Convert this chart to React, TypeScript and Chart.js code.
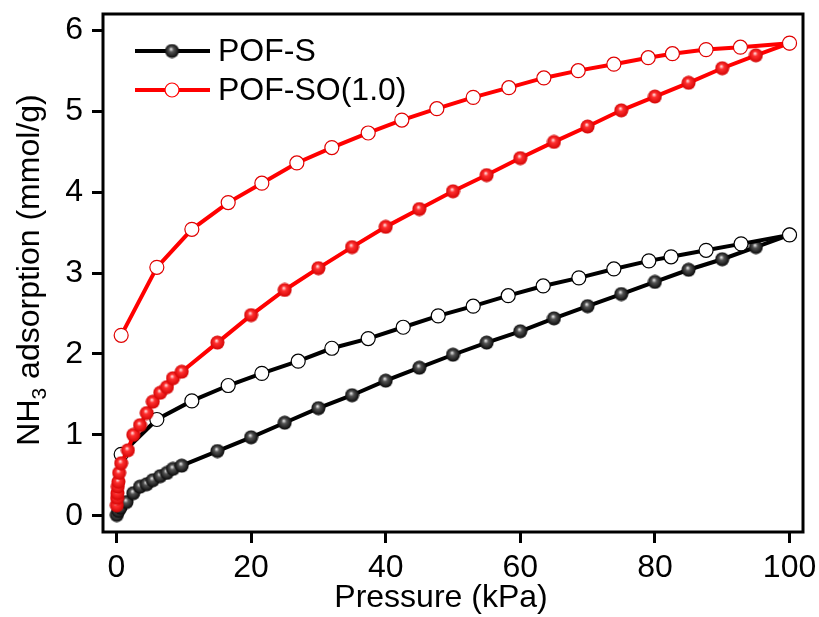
import React, { useEffect, useRef } from "react";
import { Chart, registerables } from "chart.js";
Chart.register(...registerables);

const xTicks = [0, 20, 40, 60, 80, 100];
const yTicks = [0, 1, 2, 3, 4, 5, 6];

// POF-S adsorption (filled)
const xAdsS = [0.05, 0.3, 0.6, 1.5, 2.5, 3.5, 4.5, 5.4, 6.5, 7.5, 8.4, 9.7, 15, 20, 25, 30, 35, 40, 45, 50, 55, 60, 65, 70, 75, 80, 85, 90, 95, 100];
const yAdsS = [0.01, 0.06, 0.1, 0.17, 0.28, 0.36, 0.39, 0.44, 0.49, 0.53, 0.58, 0.62, 0.8, 0.97, 1.15, 1.33, 1.49, 1.67, 1.83, 1.99, 2.14, 2.28, 2.44, 2.59, 2.74, 2.89, 3.04, 3.17, 3.32, 3.47];
// POF-S desorption (open)
const xDesS = [100, 92.8, 87.6, 82.4, 79.1, 73.9, 68.7, 63.4, 58.2, 53, 47.8, 42.6, 37.4, 32, 27, 21.6, 16.6, 11.2, 6, 0.7];
const yDesS = [3.47, 3.36, 3.28, 3.2, 3.15, 3.05, 2.94, 2.84, 2.72, 2.59, 2.47, 2.33, 2.19, 2.07, 1.91, 1.76, 1.61, 1.42, 1.19, 0.76];
// POF-SO(1.0) adsorption (filled)
const xAdsSO = [0.05, 0.1, 0.15, 0.2, 0.3, 0.4, 0.7, 1.7, 2.5, 3.5, 4.5, 5.4, 6.5, 7.5, 8.4, 9.7, 15, 20, 25, 30, 35, 40, 45, 50, 55, 60, 65, 70, 75, 80, 85, 90, 95, 100];
const yAdsSO = [0.13, 0.22, 0.28, 0.36, 0.42, 0.53, 0.65, 0.81, 1.0, 1.12, 1.27, 1.41, 1.52, 1.59, 1.7, 1.78, 2.14, 2.48, 2.79, 3.06, 3.32, 3.57, 3.79, 4.01, 4.21, 4.42, 4.62, 4.81, 5.01, 5.18, 5.35, 5.53, 5.69, 5.84];
// POF-SO(1.0) desorption (open)
const xDesSO = [100, 92.7, 87.6, 82.6, 79, 73.9, 68.6, 63.5, 58.3, 53, 47.6, 42.4, 37.4, 32, 26.8, 21.6, 16.6, 11.2, 6, 0.7];
const yDesSO = [5.84, 5.79, 5.76, 5.71, 5.66, 5.58, 5.5, 5.41, 5.29, 5.17, 5.03, 4.89, 4.73, 4.55, 4.36, 4.11, 3.87, 3.54, 3.07, 2.23];

const legendNames = ["POF-S", "POF-SO(1.0)"];
const xTitle = "Pressure (kPa)";
const FONT = "'Liberation Sans', Arial, sans-serif";
const FS = 32;

const pts = (xs: number[], ys: number[]) => xs.map((x, i) => ({ x, y: ys[i] }));

function makeSphere(light: string, mid: string, dark: string) {
  const c = document.createElement("canvas");
  c.width = 15;
  c.height = 15;
  const g = c.getContext("2d")!;
  const grad = g.createRadialGradient(6.5, 5.5, 0.3, 7.5, 7.5, 7.5);
  grad.addColorStop(0, light);
  grad.addColorStop(0.3, mid);
  grad.addColorStop(1, dark);
  g.fillStyle = grad;
  g.beginPath();
  g.arc(7.5, 7.5, 7, 0, Math.PI * 2);
  g.fill();
  return c;
}

export default function App() {
  const ref = useRef<HTMLCanvasElement>(null);
  useEffect(() => {
    const blackBall = makeSphere("#e8e8e8", "#555", "#000");
    const redBall = makeSphere("#ffe0e0", "#ff3030", "#d00000");

    const framePlugin = {
      id: "frame",
      afterDraw(chart: any) {
        const { ctx, chartArea: a } = chart;
        ctx.save();
        ctx.strokeStyle = "#000";
        ctx.lineWidth = 3;
        ctx.strokeRect(a.left, a.top, a.right - a.left, a.bottom - a.top);

        // legend
        const items = [
          { name: legendNames[0], color: "#000", y: 51, filled: true },
          { name: legendNames[1], color: "#ff0000", y: 90, filled: false },
        ];
        items.forEach((it) => {
          ctx.strokeStyle = it.color;
          ctx.lineWidth = 4;
          ctx.beginPath();
          ctx.moveTo(135, it.y);
          ctx.lineTo(210, it.y);
          ctx.stroke();
          if (it.filled) {
            ctx.drawImage(blackBall, 172 - 7.5, it.y - 7.5);
          } else {
            ctx.fillStyle = "#fff";
            ctx.strokeStyle = it.color;
            ctx.lineWidth = 1.2;
            ctx.beginPath();
            ctx.arc(172, it.y, 7, 0, Math.PI * 2);
            ctx.fill();
            ctx.stroke();
          }
          ctx.fillStyle = "#000";
          ctx.font = `${FS}px ${FONT}`;
          ctx.textBaseline = "middle";
          ctx.textAlign = "left";
          ctx.fillText(it.name, 218, it.y + 1);
        });

        // x title
        ctx.font = `${FS}px ${FONT}`;
        ctx.textAlign = "center";
        ctx.textBaseline = "middle";
        ctx.fillText(xTitle, 441, 598);

        // y title with subscript
        ctx.translate(30, 270);
        ctx.rotate(-Math.PI / 2);
        const p1 = "NH";
        const p2 = "3";
        const p3 = " adsorption (mmol/g)";
        ctx.font = `${FS}px ${FONT}`;
        const w1 = ctx.measureText(p1).width;
        const w3 = ctx.measureText(p3).width;
        ctx.font = `21px ${FONT}`;
        const w2 = ctx.measureText(p2).width;
        const total = w1 + w2 + w3;
        const x0 = -total / 2;
        ctx.textAlign = "left";
        ctx.font = `${FS}px ${FONT}`;
        ctx.fillText(p1, x0, 0);
        ctx.font = `21px ${FONT}`;
        ctx.fillText(p2, x0 + w1, 10);
        ctx.font = `${FS}px ${FONT}`;
        ctx.fillText(p3, x0 + w1 + w2, 0);
        ctx.restore();
      },
    };

    const common = { showLine: true, borderWidth: 4, pointHoverRadius: 7 };
    const chart = new Chart(ref.current!, {
      type: "scatter",
      data: {
        datasets: [
          {
            ...common,
            label: "SO-des",
            data: pts(xDesSO, yDesSO),
            borderColor: "#ff0000",
            backgroundColor: "#fff",
            pointBackgroundColor: "#fff",
            pointBorderColor: "#e00000",
            pointBorderWidth: 1.2,
            pointRadius: 7,
          },
          {
            ...common,
            label: "SO-ads",
            data: pts(xAdsSO, yAdsSO),
            borderColor: "#ff0000",
            pointStyle: redBall as any,
          },
          {
            ...common,
            label: "S-des",
            data: pts(xDesS, yDesS),
            borderColor: "#000",
            backgroundColor: "#fff",
            pointBackgroundColor: "#fff",
            pointBorderColor: "#000",
            pointBorderWidth: 1.2,
            pointRadius: 7,
          },
          {
            ...common,
            label: "S-ads",
            data: pts(xAdsS, yAdsS),
            borderColor: "#000",
            pointStyle: blackBall as any,
          },
        ],
      },
      options: {
        responsive: false,
        animation: false,
        devicePixelRatio: 1,
        layout: { padding: { top: 14, right: 16, left: 0, bottom: 0 } },
        plugins: { legend: { display: false }, tooltip: { enabled: false } },
        scales: {
          x: {
            type: "linear",
            min: -2,
            max: 102,
            afterBuildTicks: (s: any) => {
              s.ticks = xTicks.map((v) => ({ value: v }));
            },
            afterFit: (s: any) => {
              s.height = 85;
              s.paddingLeft = 0;
              s.paddingRight = 0;
            },
            border: { display: false },
            grid: { drawOnChartArea: false, drawTicks: true, tickLength: 11, lineWidth: 3, color: "#000" },
            ticks: { color: "#000", font: { family: FONT, size: FS }, padding: 6, maxRotation: 0 },
          },
          y: {
            type: "linear",
            min: -0.2,
            max: 6.2,
            afterBuildTicks: (s: any) => {
              s.ticks = yTicks.map((v) => ({ value: v }));
            },
            afterFit: (s: any) => {
              s.width = 103;
              s.paddingTop = 0;
              s.paddingBottom = 0;
            },
            border: { display: false },
            grid: { drawOnChartArea: false, drawTicks: true, tickLength: 11, lineWidth: 3, color: "#000" },
            ticks: { color: "#000", font: { family: FONT, size: FS }, padding: 9 },
          },
        },
      },
      plugins: [framePlugin],
    });
    return () => chart.destroy();
  }, []);
  return (
    <div style={{ position: "fixed", left: 0, top: 0, width: 819, height: 617, background: "#fff" }}>
      <canvas ref={ref} width={819} height={617} style={{ display: "block" }} />
    </div>
  );
}
